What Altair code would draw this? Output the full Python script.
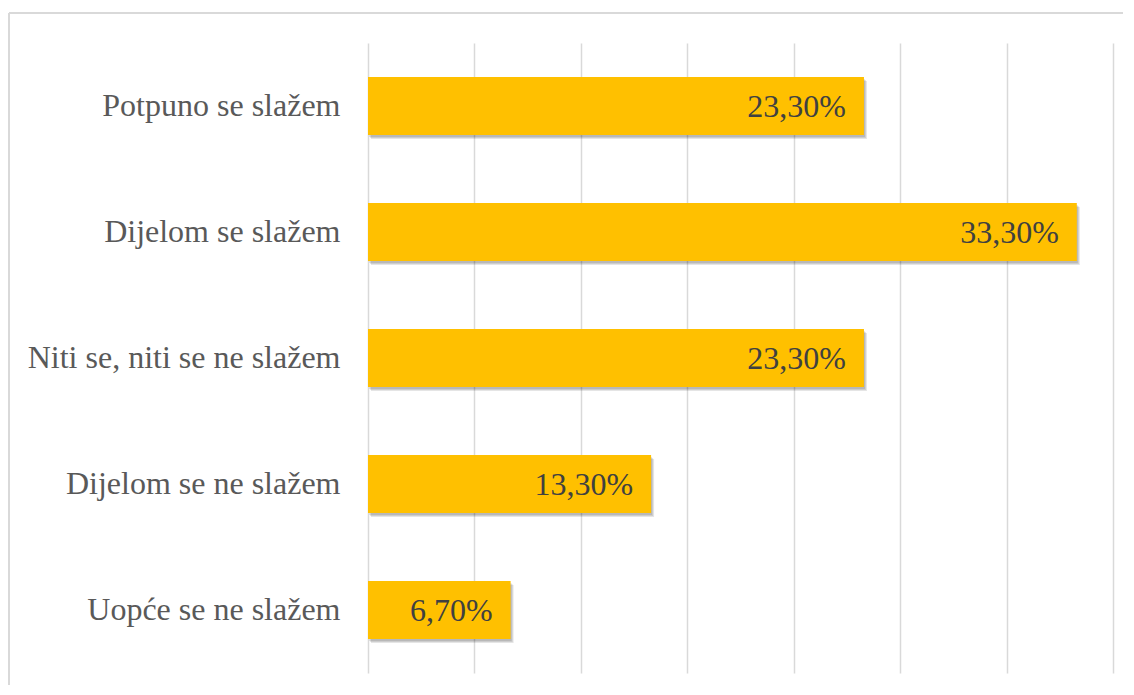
import altair as alt
import pandas as pd

categories = ["Potpuno se slažem", "Dijelom se slažem", "Niti se, niti se ne slažem",
              "Dijelom se ne slažem", "Uopće se ne slažem"]
values = [23.3, 33.3, 23.3, 13.3, 6.7]
labels = ["23,30%", "33,30%", "23,30%", "13,30%", "6,70%"]

df = pd.DataFrame({"cat": categories, "val": values, "lab": labels})

FONT = "'Times New Roman', 'Liberation Serif', 'DejaVu Serif', serif"

x = alt.X("val:Q", scale=alt.Scale(domain=[0, 35], nice=False),
          axis=alt.Axis(values=[0, 5, 10, 15, 20, 25, 30, 35], labels=False, ticks=False,
                        domain=False, title=None, grid=True, gridColor="#d9d9d9",
                        gridWidth=1.5))
y = alt.Y("cat:N", sort=categories, scale=alt.Scale(paddingInner=0.54, paddingOuter=0.27),
          axis=alt.Axis(title=None, ticks=False, domain=False, grid=False, labelFont=FONT,
                        labelFontSize=32, labelColor="#595959", labelPadding=28,
                        labelLimit=400))

base = alt.Chart(df)

shadows = [
    base.mark_bar(color="#000000", opacity=0.10, xOffset=o, x2Offset=o, yOffset=o + 1)
    .encode(x=x, y=y)
    for o in (1, 2, 3)
]

bars = base.mark_bar(color="#FFC000").encode(x=x, y=y)

text = base.mark_text(align="right", baseline="middle", dx=-18, dy=1, font=FONT,
                      fontSize=32, color="#404040").encode(
    x=alt.X("val:Q"), y=alt.Y("cat:N", sort=categories), text="lab:N")

frame_top = alt.Chart(df).mark_rule(stroke="#d9d9d9", strokeWidth=1.5).encode(
    x=alt.value(-359), x2=alt.value(800), y=alt.value(-30))
frame_left = alt.Chart(df).mark_rule(stroke="#d9d9d9", strokeWidth=1.5).encode(
    x=alt.value(-359), y=alt.value(-30), y2=alt.value(700))

chart = alt.layer(frame_top, frame_left, *shadows, bars, text).properties(
    width=745, height=630,
    autosize=alt.AutoSizeParams(type="none"),
    padding={"left": 360, "top": 35, "right": 10, "bottom": 12},
).configure(background="white").configure_view(stroke="transparent", strokeWidth=0)

chart.save("out.html", embed_options={"renderer": "svg", "actions": False})
